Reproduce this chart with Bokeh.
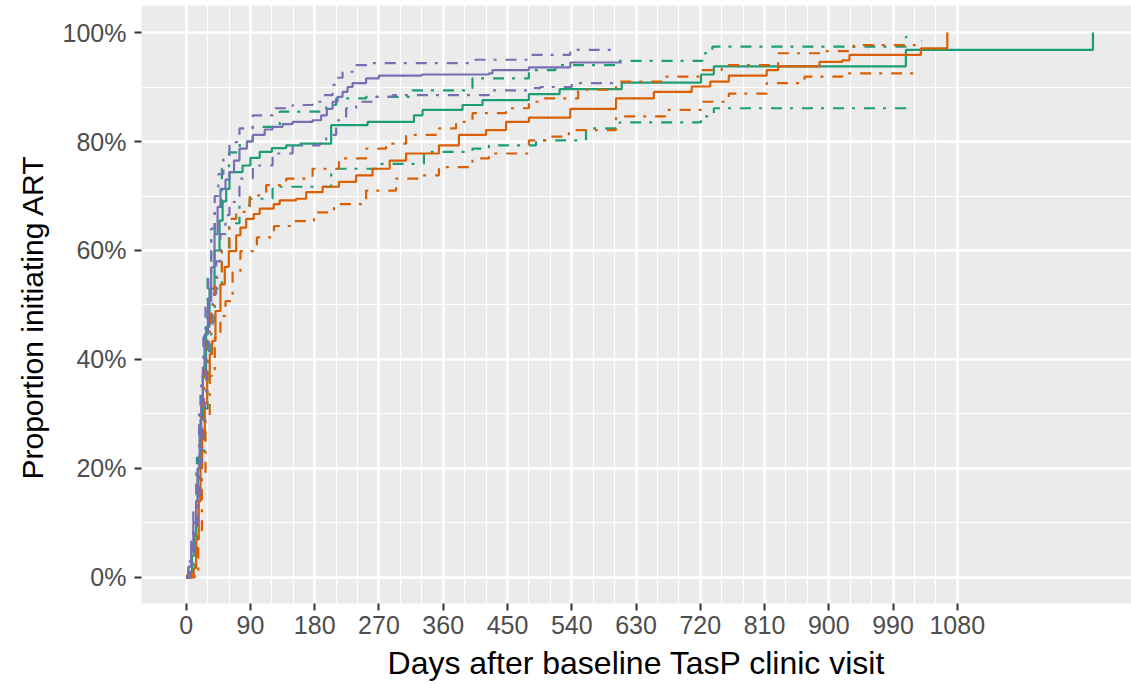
from bokeh.plotting import figure
from bokeh.models import FixedTicker, NumeralTickFormatter, Range1d, ColumnDataSource, Title
from bokeh.embed import file_html
from bokeh.resources import INLINE

# ---------------- data ----------------
x_ticks = [0, 90, 180, 270, 360, 450, 540, 630, 720, 810, 900, 990, 1080]
x_minor = list(range(0, 1081, 30))
y_ticks = [0, 0.2, 0.4, 0.6, 0.8, 1.0]
y_minor = [0.1, 0.3, 0.5, 0.7, 0.9]

green_day = [0, 4.7, 8, 11.7, 14, 16.3, 20, 23.3, 28, 32.7, 39.7, 46.7, 51, 56, 60.6, 79, 90, 103, 120, 140, 160, 203, 254, 319, 331, 387, 415, 480, 523, 610, 721, 739, 1008, 1270]
green_est = [0, 0.01, 0.04, 0.078, 0.14, 0.2, 0.29, 0.37, 0.46, 0.53, 0.6, 0.655, 0.69, 0.713, 0.744, 0.756, 0.77, 0.781, 0.788, 0.793, 0.796, 0.83, 0.836, 0.848, 0.858, 0.867, 0.876, 0.887, 0.896, 0.908, 0.923, 0.938, 0.968, 1.0]
green_up_day = [0, 3, 6, 10, 15, 20, 25, 30, 35, 40, 50, 60, 75, 93, 131, 196, 210, 252, 317, 401, 480, 517, 607, 723, 737, 1008, 1010]
green_up = [0, 0.01, 0.04, 0.1, 0.22, 0.34, 0.45, 0.55, 0.62, 0.68, 0.75, 0.78, 0.8, 0.827, 0.855, 0.867, 0.879, 0.882, 0.894, 0.916, 0.931, 0.94, 0.948, 0.962, 0.974, 0.992, 0.992]
green_lo_day = [0, 8, 12, 15, 20, 25, 30, 35, 40, 50, 60, 74.6, 89, 121, 203, 270, 333, 401, 424, 490, 560, 607, 721, 739, 1008]
green_lo = [0, 0.01, 0.04, 0.13, 0.22, 0.31, 0.4, 0.47, 0.53, 0.6, 0.65, 0.683, 0.695, 0.717, 0.75, 0.759, 0.781, 0.787, 0.793, 0.802, 0.824, 0.835, 0.846, 0.861, 0.849]

orange_day = [0, 1.4, 10.6, 14, 17.6, 20, 22.4, 26, 29.4, 33, 36.4, 41, 48, 54, 59.7, 70, 76, 84, 94.6, 103, 122.6, 131, 154, 168, 191, 214, 238, 261, 285, 308, 354, 382, 420, 448, 480, 538, 602, 655, 708, 734, 760, 813, 829, 887, 919, 929, 1029, 1066]
orange_est = [0, 0.005, 0.017, 0.07, 0.14, 0.2, 0.263, 0.32, 0.373, 0.41, 0.434, 0.489, 0.538, 0.57, 0.599, 0.628, 0.642, 0.658, 0.667, 0.677, 0.685, 0.692, 0.695, 0.707, 0.717, 0.726, 0.738, 0.75, 0.765, 0.778, 0.793, 0.812, 0.821, 0.836, 0.844, 0.86, 0.879, 0.891, 0.901, 0.91, 0.921, 0.931, 0.938, 0.946, 0.949, 0.959, 0.971, 1.0]
orange_up_day = [0, 8, 10, 13, 15, 18, 20, 23, 25, 30, 35, 40, 50, 60.6, 70, 89, 112, 140, 177, 214, 252, 280, 308, 354, 378, 401, 448, 480, 496, 549, 602, 671, 723, 750, 829, 892, 935, 1027, 1030]
orange_up = [0, 0.01, 0.03, 0.09, 0.15, 0.22, 0.28, 0.34, 0.38, 0.45, 0.5, 0.55, 0.6, 0.658, 0.671, 0.701, 0.72, 0.732, 0.75, 0.769, 0.787, 0.796, 0.812, 0.824, 0.836, 0.852, 0.861, 0.873, 0.879, 0.895, 0.91, 0.919, 0.931, 0.94, 0.962, 0.966, 0.977, 0.984, 0.984]
orange_lo_day = [0, 12, 17, 22, 27, 33, 40, 48, 55, 65, 76, 99, 123, 146, 179, 207, 252, 294, 331, 354, 401, 424, 480, 507, 536, 602, 671, 723, 760, 813, 866, 919, 1030]
orange_lo = [0, 0.005, 0.08, 0.19, 0.29, 0.37, 0.44, 0.48, 0.507, 0.56, 0.599, 0.624, 0.645, 0.654, 0.67, 0.685, 0.71, 0.732, 0.738, 0.753, 0.769, 0.778, 0.802, 0.809, 0.821, 0.846, 0.858, 0.873, 0.888, 0.907, 0.919, 0.925, 0.926]

purple_day = [0, 3, 7, 10, 14, 16, 18.7, 21, 23.3, 25.7, 30.4, 35, 39.7, 44, 48, 55, 60.6, 67, 74.6, 85, 93.3, 110, 121, 135, 149, 177, 189, 197, 205, 212, 219, 226, 233, 252, 270, 330, 424, 429, 480, 538, 610]
purple_est = [0, 0.02, 0.05, 0.1, 0.14, 0.2, 0.262, 0.323, 0.385, 0.446, 0.507, 0.569, 0.63, 0.68, 0.713, 0.73, 0.744, 0.765, 0.787, 0.8, 0.812, 0.822, 0.827, 0.832, 0.836, 0.839, 0.848, 0.86, 0.873, 0.882, 0.891, 0.9, 0.907, 0.916, 0.921, 0.923, 0.925, 0.931, 0.936, 0.945, 0.945]
purple_up_day = [0, 3, 7, 10, 14, 18, 21, 24, 27, 31, 35, 40, 45, 52, 60.6, 74.6, 93.3, 121, 149, 177, 191, 205, 212, 219, 238, 261, 401, 480, 538, 607]
purple_up = [0, 0.03, 0.07, 0.13, 0.2, 0.3, 0.37, 0.44, 0.5, 0.56, 0.64, 0.7, 0.74, 0.77, 0.799, 0.824, 0.848, 0.861, 0.867, 0.873, 0.885, 0.904, 0.917, 0.928, 0.94, 0.944, 0.95, 0.959, 0.968, 0.968]
purple_lo_day = [0, 5, 9, 12, 16, 19, 22, 25, 28, 32, 37, 42, 48, 55, 60.6, 74.6, 93.3, 121, 149, 187, 196, 210, 224, 238, 261, 289, 424, 480, 496, 540, 600]
purple_lo = [0, 0.01, 0.04, 0.08, 0.15, 0.21, 0.28, 0.34, 0.4, 0.46, 0.52, 0.58, 0.63, 0.665, 0.689, 0.732, 0.756, 0.778, 0.793, 0.796, 0.812, 0.839, 0.861, 0.873, 0.882, 0.885, 0.894, 0.898, 0.9, 0.907, 0.907]

GREEN, ORANGE, PURPLE = "#1B9E77", "#D95F02", "#7570B3"
FONT = "Liberation Sans"

# ---------------- figure ----------------
p = figure(width=1131, height=684, output_backend="svg", toolbar_location=None,
           x_range=Range1d(-62.6, 1324), y_range=Range1d(-0.0478, 1.0496),
           min_border_left=141, min_border_right=0, min_border_top=5, min_border_bottom=81)
p.background_fill_color = "#EBEBEB"
p.border_fill_color = "white"
p.outline_line_color = None

p.xaxis.ticker = FixedTicker(ticks=x_ticks, minor_ticks=x_minor)
p.yaxis.ticker = FixedTicker(ticks=y_ticks, minor_ticks=y_minor)
p.yaxis.formatter = NumeralTickFormatter(format="0%")

for g in (p.xgrid, p.ygrid):
    g.grid_line_color = "white"
    g.grid_line_width = 2.4
    g.minor_grid_line_color = "white"
    g.minor_grid_line_width = 1.2

for ax in (p.xaxis, p.yaxis):
    ax.axis_line_color = None
    ax.major_tick_line_color = "#333333"
    ax.major_tick_line_width = 2
    ax.major_tick_out = 7
    ax.major_tick_in = 0
    ax.minor_tick_out = 0
    ax.minor_tick_in = 0
    ax.major_label_text_font = FONT
    ax.major_label_text_font_size = "25px"
    ax.major_label_text_color = "#4D4D4D"
    ax.axis_label_text_font = FONT
    ax.axis_label_text_font_style = "normal"
    ax.axis_label_text_color = "black"

p.xaxis.axis_label_text_font_size = "32px"
p.xaxis.axis_label = "Days after baseline TasP clinic visit"
p.xaxis.major_label_standoff = 5
p.yaxis.major_label_standoff = 8
p.xaxis.axis_label_standoff = 8

ytitle = Title(text="Proportion initiating ART", align="left", offset=124,
               text_font=FONT, text_font_size="30px", text_font_style="normal",
               text_color="black", standoff=22)
p.add_layout(ytitle, "left")

DASH = "11 8 3 9"
series = [
    (green_day, green_est, GREEN, "solid"), (green_up_day, green_up, GREEN, DASH), (green_lo_day, green_lo, GREEN, DASH),
    (orange_day, orange_est, ORANGE, "solid"), (orange_up_day, orange_up, ORANGE, DASH), (orange_lo_day, orange_lo, ORANGE, DASH),
    (purple_day, purple_est, PURPLE, "solid"), (purple_up_day, purple_up, PURPLE, DASH), (purple_lo_day, purple_lo, PURPLE, DASH),
]
for xs, ys, col, dash in series:
    src = ColumnDataSource(dict(x=xs, y=ys))
    p.step("x", "y", source=src, mode="after", line_color=col, line_width=2.2, line_dash=dash)

open("out.html", "w").write(file_html(p, INLINE))
